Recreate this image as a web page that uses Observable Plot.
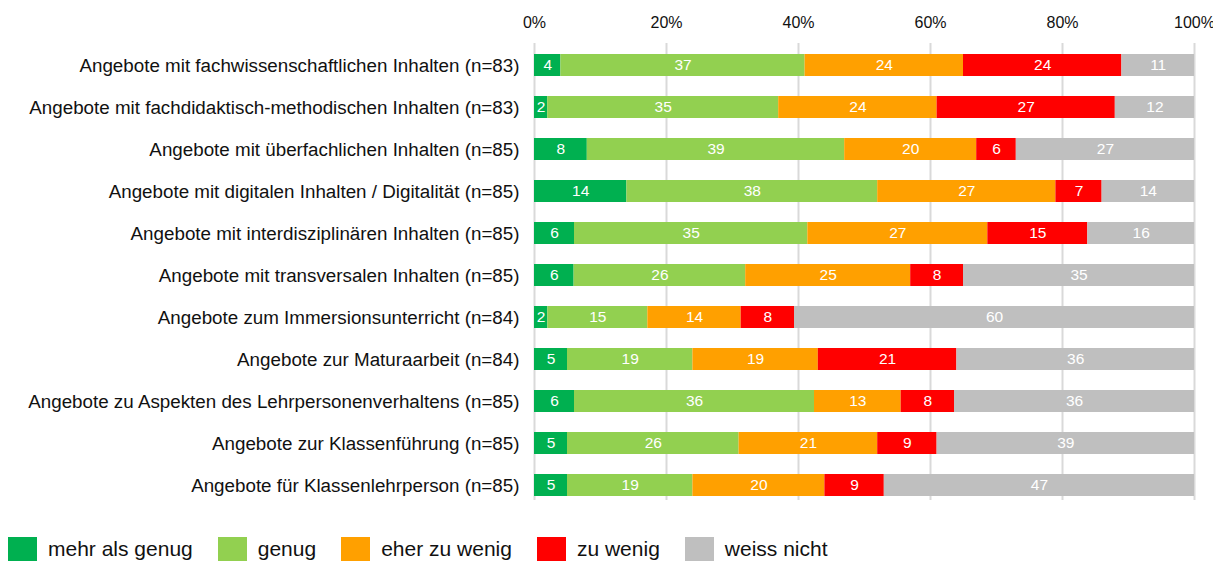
<!DOCTYPE html>
<html>
<head>
<meta charset="utf-8">
<script src="https://cdn.jsdelivr.net/npm/d3@7"></script>
<script src="https://cdn.jsdelivr.net/npm/@observablehq/plot@0.6"></script>
<style>
  html, body { margin: 0; padding: 0; background: #fff; }
  body { width: 1213px; height: 561px; overflow: hidden; font-family: "Liberation Sans", Arial, sans-serif; }
  #legend { display: flex; align-items: center; margin-top: 17px; margin-left: 8px; font-size: 21px; color: #111; }
  #legend .item { display: flex; align-items: center; margin-right: 25px; }
  #legend .sw { width: 29px; height: 24px; margin-right: 11px; }
</style>
</head>
<body>
<div id="chart"></div>
<div id="legend"></div>
<script>
const rows = [
  "Angebote mit fachwissenschaftlichen Inhalten (n=83)",
  "Angebote mit fachdidaktisch-methodischen Inhalten (n=83)",
  "Angebote mit überfachlichen Inhalten (n=85)",
  "Angebote mit digitalen Inhalten / Digitalität (n=85)",
  "Angebote mit interdisziplinären Inhalten (n=85)",
  "Angebote mit transversalen Inhalten (n=85)",
  "Angebote zum Immersionsunterricht (n=84)",
  "Angebote zur Maturaarbeit (n=84)",
  "Angebote zu Aspekten des Lehrpersonenverhaltens (n=85)",
  "Angebote zur Klassenführung (n=85)",
  "Angebote für Klassenlehrperson (n=85)"
];
const categories = ["mehr als genug", "genug", "eher zu wenig", "zu wenig", "weiss nicht"];
const colors = ["#00b050", "#92d050", "#ffa000", "#ff0000", "#bfbfbf"];

const mehrAlsGenug = [4, 2, 8, 14, 6, 6, 2, 5, 6, 5, 5];
const genug        = [37, 35, 39, 38, 35, 26, 15, 19, 36, 26, 19];
const eherZuWenig  = [24, 24, 20, 27, 27, 25, 14, 19, 13, 21, 20];
const zuWenig      = [24, 27, 6, 7, 15, 8, 8, 21, 8, 9, 9];
const weissNicht   = [11, 12, 27, 14, 16, 35, 60, 36, 36, 39, 47];

const xTicks = [0, 0.2, 0.4, 0.6, 0.8, 1];

const series = [mehrAlsGenug, genug, eherZuWenig, zuWenig, weissNicht];
const data = [];
categories.forEach((c, ci) => rows.forEach((r, ri) => data.push({row: r, cat: c, value: series[ci][ri]})));

const stackOpts = {x: "value", y: "row", z: "cat", order: categories, offset: "normalize"};

const chart = Plot.plot({
  width: 1213,
  height: 520,
  marginLeft: 534,
  marginRight: 19,
  marginTop: 43,
  marginBottom: 20,
  style: {fontFamily: "'Liberation Sans', Arial, sans-serif", fontSize: "17px", color: "#111", background: "#fff", overflow: "visible"},
  x: {domain: [0, 1], axis: null, label: null},
  y: {domain: rows, paddingInner: 0.485, paddingOuter: 0.17, align: 0.72, axis: null, label: null},
  color: {domain: categories, range: colors},
  marks: [
    Plot.gridX(xTicks, {stroke: "#d9d9d9", strokeOpacity: 1, strokeWidth: 2}),
    Plot.axisX(xTicks, {anchor: "top", label: null, tickSize: 0, tickPadding: 16, tickFormat: d => Math.round(d * 100) + "%", fontSize: 16, fill: "#111"}),
    Plot.axisY({anchor: "left", label: null, tickSize: 0, tickPadding: 15, fontSize: 18.8, fill: "#111"}),
    Plot.barX(data, Plot.stackX({...stackOpts, fill: "cat"})),
    Plot.text(data, Plot.stackX({...stackOpts, text: "value", fill: "#fff", fontSize: 15.5}))
  ]
});
document.getElementById("chart").appendChild(chart);

const legend = document.getElementById("legend");
categories.forEach((c, i) => {
  const item = document.createElement("div");
  item.className = "item";
  const sw = document.createElement("div");
  sw.className = "sw";
  sw.style.background = colors[i];
  const t = document.createElement("span");
  t.textContent = c;
  item.appendChild(sw);
  item.appendChild(t);
  legend.appendChild(item);
});
</script>
</body>
</html>
